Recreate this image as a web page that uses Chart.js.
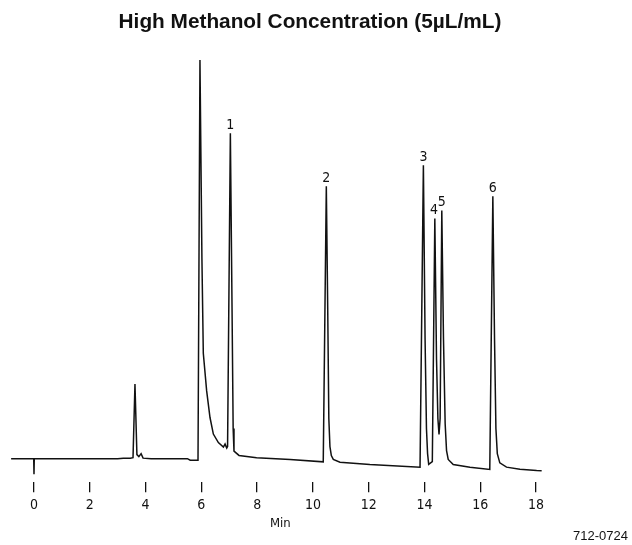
<!DOCTYPE html>
<html>
<head>
<meta charset="utf-8">
<script src="https://cdn.jsdelivr.net/npm/chart.js@4.4.1/dist/chart.umd.min.js"></script>
<style>
  html, body { margin: 0; padding: 0; background: #fff; }
  #wrap { position: relative; width: 632px; height: 545px; }
  #code { position: absolute; right: 4px; top: 528px; font: 13px 'Liberation Sans', Arial, sans-serif; color: #111; }
  #xlabel { position: absolute; left: 270px; top: 515px; font: 13px 'Liberation Sans Narrow', 'Arial Narrow', 'DejaVu Sans Condensed', sans-serif; color: #111; }
</style>
</head>
<body>
<div id="wrap">
  <canvas id="chart" width="632" height="545"></canvas>
  <div id="xlabel">Min</div>
  <div id="code">712-0724</div>
</div>
<script>
// retention time (min) and detector signal
const traceTime = [
  -0.82, -0.01, 0, 0.01, 3.0, 3.2, 3.45, 3.55, 3.62, 3.69, 3.76, 3.84, 3.91, 4.2,
  5.5, 5.6, 5.88, 5.95, 6.02, 6.07, 6.19, 6.31, 6.43, 6.61, 6.79, 6.85, 6.91, 6.94,
  7.04, 7.10, 7.14, 7.17, 7.35, 7.98, 9.18, 10.37,
  10.48, 10.53, 10.57, 10.61, 10.66, 10.73, 10.97, 12.04, 13.84,
  13.96, 14.02, 14.07, 14.11, 14.15, 14.28, 14.37, 14.43, 14.48, 14.52, 14.56,
  14.62, 14.68, 14.74, 14.79, 14.85, 15.03, 15.63, 16.34,
  16.45, 16.51, 16.56, 16.61, 16.70, 16.94, 17.42, 18.02, 18.2
];
const traceSignal = [
  0, 0, -15.5, 0, 0, 0.5, 0.5, 1, 74.5, 4, 2, 5, 0.5, 0,
  0, -1.5, -1.5, 397.5, 200, 105, 67.5, 41, 24.5, 16, 11.5, 14.5, 10.5, 12,
  324.5, 150, 30, 7.5, 3.2, 0.8, -0.8, -3.2,
  271.5, 150, 40, 12, 3, -0.8, -3.5, -5.8, -8.5,
  292.5, 120, 30, 5, -5.8, -3, 239.5, 100, 40, 24, 40,
  247.5, 120, 35, 8, -0.8, -5.8, -8.5, -10.8,
  261.5, 120, 30, 5, -4.2, -8.5, -10.5, -11.8, -12
];

const peakNames = ['1', '2', '3', '4', '5', '6'];
const peakTimes = [7.04, 10.48, 13.96, 14.34, 14.62, 16.45];
const peakHeights = [324.5, 271.5, 292.5, 239.5, 247.5, 261.5];

const tickValues = [0, 2, 4, 6, 8, 10, 12, 14, 16, 18];

const narrow = "'Liberation Sans Narrow', 'Arial Narrow', 'DejaVu Sans Condensed', sans-serif";

const peakLabels = {
  id: 'peakLabels',
  afterDatasetsDraw(chart) {
    const { ctx, scales: { x, y } } = chart;
    ctx.save();
    ctx.fillStyle = '#111';
    ctx.font = '14px ' + narrow;
    ctx.textAlign = 'center';
    ctx.textBaseline = 'bottom';
    peakNames.forEach((name, i) => {
      ctx.fillText(name, x.getPixelForValue(peakTimes[i]), y.getPixelForValue(peakHeights[i]) - 1);
    });
    ctx.restore();
  }
};

new Chart(document.getElementById('chart').getContext('2d'), {
  type: 'line',
  data: {
    datasets: [{
      data: traceTime.map((t, i) => ({ x: t, y: traceSignal[i] })),
      borderColor: '#111',
      borderWidth: 1.5,
      pointRadius: 0,
      tension: 0,
      fill: false
    }]
  },
  options: {
    responsive: false,
    animation: false,
    devicePixelRatio: 1,
    layout: { padding: { left: 10, right: 22, top: 0, bottom: 26 } },
    plugins: {
      legend: { display: false },
      tooltip: { enabled: false },
      title: {
        display: true,
        text: 'High Methanol Concentration (5µL/mL)',
        color: '#111',
        font: { family: "'Liberation Sans', Arial, sans-serif", size: 20.8, weight: 'bold' },
        padding: { top: 10, bottom: 15 }
      }
    },
    scales: {
      x: {
        type: 'linear',
        min: -0.86,
        max: 20.65,
        afterBuildTicks(scale) { scale.ticks = tickValues.map(v => ({ value: v })); },
        border: { display: false },
        grid: { display: true, drawOnChartArea: false, drawTicks: true, tickLength: 10, color: '#111', lineWidth: 1.3 },
        ticks: { color: '#111', padding: 5, font: { family: narrow, size: 14 } },
        title: { display: false }
      },
      y: {
        display: false,
        min: -23.5,
        max: 407.5
      }
    }
  },
  plugins: [peakLabels]
});
</script>
</body>
</html>
